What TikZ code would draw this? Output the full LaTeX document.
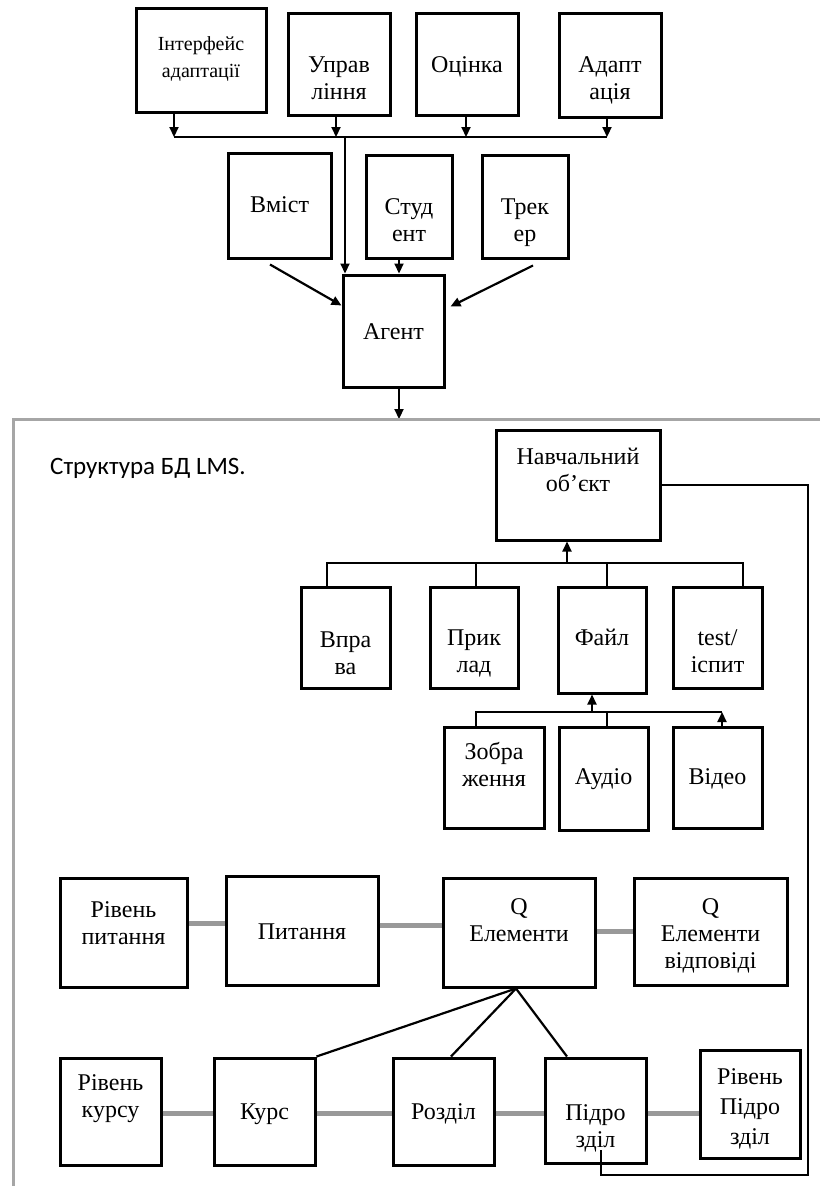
\documentclass[tikz,border=0pt]{standalone}
\usepackage{fontspec}
\setmainfont{Liberation Serif}
\newfontfamily\labelsans{Carlito}
\usetikzlibrary{arrows.meta,calc}

\tikzset{
  box/.style={draw=black, line width=3pt, fill=white, inner sep=0pt},
  txt/.style={align=center, font=\fontsize{24}{27}\selectfont, inner sep=0pt, anchor=base},
  wire/.style={draw=black, line width=2.2pt},
  arr/.style={wire, -{Triangle[length=10pt,width=9pt]}},
  link/.style={draw=black!40, line width=5pt},
  frame/.style={draw=black!35, line width=3pt},
}

% #1 name, #2/#3 centre, #4/#5 width/height, #6 text,
% #7 offset of the last baseline below the centre, #8 text options
\newcommand\lmsbox[8]{%
  \node[box, minimum width=#4pt, minimum height=#5pt] (#1) at (#2,#3) {};
  \node[txt,#8] (#1-t) at ($(#1.center)+(0,#7)$) {#6};
}

\begin{document}
\begin{tikzpicture}[x=1pt,y=-1pt]
\useasboundingbox[fill=white] (0,0) rectangle (820,1186);

% ---------- agent modules ----------
\lmsbox{intf}{201}{60}{130}{104}{Інтерфейс\\адаптації}{17}{font=\fontsize{20}{27}\selectfont}
\lmsbox{upr}{339}{64}{102}{102}{Управ\\ління}{35}{}
\lmsbox{ots}{467}{64}{102}{102}{Оцінка}{8}{}
\lmsbox{adapt}{610}{65}{102}{104}{Адапт\\ація}{34}{}

\lmsbox{vmist}{279.5}{205.5}{103}{105}{Вміст}{7}{}
\lmsbox{stud}{409}{206.5}{86}{103}{Студ\\ент}{35}{}
\lmsbox{trek}{525}{206.5}{86}{103}{Трек\\ер}{35}{}
\lmsbox{agent}{393.5}{331}{101}{112}{Агент}{8}{}

% bus under the top row
\coordinate (b1) at (174,137);
\coordinate (b2) at (336,137);
\coordinate (b3) at (466,137);
\coordinate (b4) at (607,137);
\coordinate (bj) at (345,137);
\draw[wire] (b1) -- (b4);
\draw[arr] (b1 |- intf.south) -- (b1);
\draw[arr] (b2 |- upr.south) -- (b2);
\draw[arr] (b3 |- ots.south) -- (b3);
\draw[arr] (b4 |- adapt.south) -- (b4);
\draw[arr] (bj) -- (bj |- agent.north);

\coordinate (sx) at (399,0);
\draw[arr] (sx |- stud.south) -- (sx |- agent.north);
\draw[arr] ($(vmist.south)+(-9.5,5)$) -- ($(agent.north west)+(0,32)$);
\draw[arr] ($(trek.south)+(8,6)$) -- ($(agent.north east)+(5,33)$);

\coordinate (fa) at (399,419);
\draw[arr] (fa |- agent.south) -- (fa);

% ---------- LMS database frame ----------
\draw[frame] (820,419) -- (13,419) -- (13,1186);
\node[anchor=west, inner sep=0pt, font=\labelsans\fontsize{25}{28}\selectfont] (title) at (50,468) {Структура БД LMS.};

\lmsbox{nav}{578}{485}{164}{110}{Навчальний\\об’єкт}{6}{}

\lmsbox{vpr}{345.5}{637.5}{89}{101}{Впра\\ва}{37}{}
\lmsbox{pryk}{474}{637.5}{88}{101}{Прик\\лад}{35}{}
\lmsbox{fail}{602}{640}{88}{106}{Файл}{5}{}
\lmsbox{test}{717.5}{637.5}{89}{101}{test/\\іспит}{35}{}

\lmsbox{zobr}{494}{777.5}{100}{101}{Зобра\\ження}{9}{}
\lmsbox{audio}{603.5}{778.5}{89}{103}{Аудіо}{6}{}
\lmsbox{video}{717.5}{777.5}{89}{101}{Відео}{7}{}

\lmsbox{rp}{123.5}{932.5}{127}{109}{Рівень\\питання}{11.5}{}
\lmsbox{pyt}{302}{930.5}{152}{109}{Питання}{8.5}{}
\lmsbox{qel}{519}{932.5}{152}{109}{Q\\Елементи}{8.5}{}
\lmsbox{qvid}{710.5}{931.5}{153}{107}{Q\\Елементи\\відповіді}{36.5}{}

\lmsbox{rk}{110.5}{1111.5}{101}{107}{Рівень\\курсу}{6}{}
\lmsbox{kurs}{264.5}{1111.5}{101}{107}{Курс}{8}{}
\lmsbox{rozd}{443.5}{1111.5}{101}{107}{Розділ}{8}{}
\lmsbox{pidr}{595.5}{1110.5}{101}{105}{Підро\\зділ}{37}{}
\lmsbox{rpidr}{750}{1104}{100}{108}{Рівень\\Підро\\зділ}{40}{font=\fontsize{24}{30}\selectfont}

% learning object and its parts
\coordinate (n1) at (327,563);
\coordinate (n2) at (476,563);
\coordinate (n3) at (607,563);
\coordinate (n4) at (743,563);
\coordinate (na) at (567,563);
\draw[wire] (n1 |- vpr.north) -- (n1) -- (n4) -- (n4 |- test.north);
\draw[wire] (n2) -- (n2 |- pryk.north);
\draw[wire] (n3) -- (n3 |- fail.north);
\draw[arr] (na) -- (na |- nav.south);

% media files
\coordinate (s1) at (476,712);
\coordinate (s2) at (607,712);
\coordinate (s3) at (722,712);
\coordinate (sa) at (592,712);
\draw[wire] (s1 |- zobr.north) -- (s1) -- (s3);
\draw[wire] (s2) -- (s2 |- audio.north);
\draw[arr] (s3 |- video.north) -- (s3);
\draw[arr] (sa) -- (sa |- fail.south);

% question chain
\coordinate (l1) at (0,923);
\coordinate (l2) at (0,925);
\coordinate (l3) at (0,931);
\draw[link] (l1 -| rp.east) -- (l1 -| pyt.west);
\draw[link] (l2 -| pyt.east) -- (l2 -| qel.west);
\draw[link] (l3 -| qel.east) -- (l3 -| qvid.west);

% course chain
\coordinate (l4) at (0,1113);
\draw[link] (l4 -| rk.east) -- (l4 -| kurs.west);
\draw[link] (l4 -| kurs.east) -- (l4 -| rozd.west);
\draw[link] (l4 -| rozd.east) -- (l4 -| pidr.west);
\draw[link] (l4 -| pidr.east) -- (l4 -| rpidr.west);

% question elements linked to course parts
\coordinate (qa) at ($(qel.south)+(-3,0)$);
\draw[wire] (kurs.north east) -- (qa);
\draw[wire] (qa) -- ($(rozd.north)+(7.5,0)$);
\draw[wire] (qa) -- ($(pidr.north)+(-28.5,0)$);

% learning object back to subsection
\coordinate (rc) at (808,1175);
\draw[wire] (nav.east) -| (rc) -| ($(pidr.south)+(5.5,-15)$);
\end{tikzpicture}
\end{document}
